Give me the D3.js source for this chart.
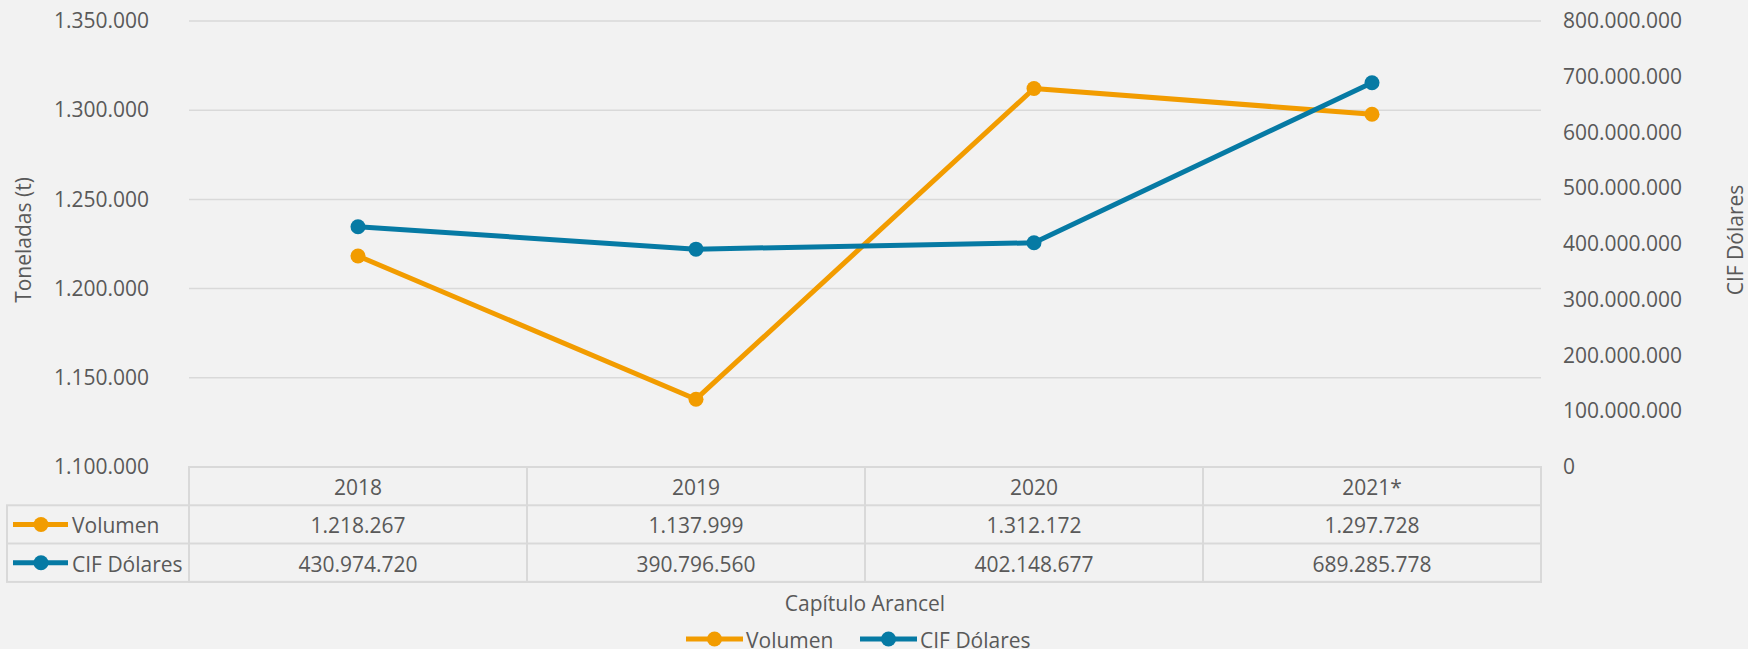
<!DOCTYPE html>
<html>
<head>
<meta charset="utf-8">
<script src="https://cdn.jsdelivr.net/npm/d3@7"></script>
<style>
  html, body { margin: 0; padding: 0; background: #f2f2f2; }
  svg { display: block; font-family: "Open Sans", "Noto Sans", sans-serif; }
</style>
</head>
<body>
<svg width="1748" height="649"></svg>
<script>
var years = ['2018', '2019', '2020', '2021*'];
var volumen = [1218267, 1137999, 1312172, 1297728];
var cifDolares = [430974720, 390796560, 402148677, 689285778];
var leftTicks = [1100000, 1150000, 1200000, 1250000, 1300000, 1350000];
var rightTicks = [0, 100000000, 200000000, 300000000, 400000000, 500000000, 600000000, 700000000, 800000000];

var seriesNames = ['Volumen', 'CIF Dólares'];
var colors = ['#f29c00', '#067aa4'];

var svg = d3.select('svg');
var margin = {top: 21, left: 189, right: 207};
var width = 1748 - margin.left - margin.right;
var plotBottom = 467;
var rowH = 38.3;
var textColor = '#595959';
var gridColor = '#d9d9d9';

var fmt = d3.formatLocale({decimal: ',', thousands: '.', grouping: [3], currency: ['', '']}).format(',d');

var x = d3.scaleBand().domain(years).range([margin.left, margin.left + width]);
var yLeft = d3.scaleLinear().domain([1100000, 1350000]).range([plotBottom, margin.top]);
var yRight = d3.scaleLinear().domain([0, 800000000]).range([plotBottom, margin.top]);

// gridlines
svg.append('g')
    .selectAll('line')
    .data(leftTicks.slice(1))
    .enter()
    .append('line')
    .attr('x1', margin.left)
    .attr('x2', margin.left + width)
    .attr('y1', function (d) { return yLeft(d); })
    .attr('y2', function (d) { return yLeft(d); })
    .attr('stroke', gridColor)
    .attr('stroke-width', 1.5);

// left axis
var axL = svg.append('g')
    .attr('transform', 'translate(' + 149 + ',0)')
    .call(d3.axisLeft(yLeft).tickValues(leftTicks).tickSize(0).tickPadding(0).tickFormat(fmt));
axL.select('.domain').remove();
axL.selectAll('text').attr('fill', textColor).style('font-size', '21px').style('font-family', '"Open Sans", sans-serif');

// right axis
var axR = svg.append('g')
    .attr('transform', 'translate(' + 1563 + ',0)')
    .call(d3.axisRight(yRight).tickValues(rightTicks).tickSize(0).tickPadding(0).tickFormat(fmt));
axR.select('.domain').remove();
axR.selectAll('text').attr('fill', textColor).style('font-size', '21px').style('font-family', '"Open Sans", sans-serif');

// axis titles
svg.append('text')
    .attr('transform', 'translate(23,' + 240 + ') rotate(-90)')
    .attr('text-anchor', 'middle')
    .attr('dominant-baseline', 'central')
    .attr('fill', textColor)
    .style('font-size', '21px')
    .text('Toneladas (t)');

svg.append('text')
    .attr('transform', 'translate(1735,' + 240 + ') rotate(-90)')
    .attr('text-anchor', 'middle')
    .attr('dominant-baseline', 'central')
    .attr('fill', textColor)
    .style('font-size', '21px')
    .text('CIF Dólares');

// lines
var cx = function (d, i) { return x(years[i]) + x.bandwidth() / 2; };
var series = [
    {values: volumen, y: yLeft, color: colors[0]},
    {values: cifDolares, y: yRight, color: colors[1]}
];

series.forEach(function (s) {
    var line = d3.line()
        .x(function (d, i) { return cx(d, i); })
        .y(function (d) { return s.y(d); });
    var g = svg.append('g');
    g.append('path')
        .datum(s.values)
        .attr('d', line)
        .attr('fill', 'none')
        .attr('stroke', s.color)
        .attr('stroke-width', 5)
        .attr('stroke-linejoin', 'round');
    g.selectAll('circle')
        .data(s.values)
        .enter()
        .append('circle')
        .attr('cx', cx)
        .attr('cy', function (d) { return s.y(d); })
        .attr('r', 7.5)
        .attr('fill', s.color);
});

// data table
var table = svg.append('g');
var tableLeft = 7;
var rowsTop = plotBottom;
var lineStyle = function (sel) {
    return sel.attr('stroke', gridColor).attr('stroke-width', 2).attr('fill', 'none');
};

// header row border
table.append('rect')
    .attr('x', margin.left).attr('y', rowsTop)
    .attr('width', width).attr('height', rowH * 3)
    .call(lineStyle);
table.append('rect')
    .attr('x', tableLeft).attr('y', rowsTop + rowH)
    .attr('width', margin.left + width - tableLeft).attr('height', rowH * 2)
    .call(lineStyle);
table.append('line')
    .attr('x1', tableLeft).attr('x2', margin.left + width)
    .attr('y1', rowsTop + rowH * 2).attr('y2', rowsTop + rowH * 2)
    .call(lineStyle);
table.append('line')
    .attr('x1', margin.left).attr('x2', margin.left)
    .attr('y1', rowsTop).attr('y2', rowsTop + rowH * 3)
    .call(lineStyle);
table.selectAll('.vline')
    .data(years.slice(1))
    .enter()
    .append('line')
    .attr('class', 'vline')
    .attr('x1', function (d) { return x(d); })
    .attr('x2', function (d) { return x(d); })
    .attr('y1', rowsTop).attr('y2', rowsTop + rowH * 3)
    .call(lineStyle);

// header text
table.selectAll('.yr')
    .data(years)
    .enter()
    .append('text')
    .attr('class', 'yr')
    .attr('x', function (d) { return x(d) + x.bandwidth() / 2; })
    .attr('y', rowsTop + rowH / 2 + 1)
    .attr('text-anchor', 'middle')
    .attr('dominant-baseline', 'central')
    .attr('fill', textColor)
    .style('font-size', '21px')
    .text(function (d) { return d; });

[volumen, cifDolares].forEach(function (vals, r) {
    var yMid = rowsTop + rowH * (r + 1) + rowH / 2 + 1;
    table.selectAll('.v' + r)
        .data(vals)
        .enter()
        .append('text')
        .attr('class', 'v' + r)
        .attr('x', function (d, i) { return x(years[i]) + x.bandwidth() / 2; })
        .attr('y', yMid)
        .attr('text-anchor', 'middle')
        .attr('dominant-baseline', 'central')
        .attr('fill', textColor)
        .style('font-size', '21px')
        .text(function (d) { return fmt(d); });

    // legend key in table
    table.append('line')
        .attr('x1', 13).attr('x2', 68)
        .attr('y1', yMid - 1).attr('y2', yMid - 1)
        .attr('stroke', colors[r]).attr('stroke-width', 5);
    table.append('circle')
        .attr('cx', 41).attr('cy', yMid - 1).attr('r', 7.5)
        .attr('fill', colors[r]);
    table.append('text')
        .attr('x', 72).attr('y', yMid)
        .attr('dominant-baseline', 'central')
        .attr('fill', textColor)
        .style('font-size', '21px')
        .text(seriesNames[r]);
});

// x axis title
svg.append('text')
    .attr('x', margin.left + width / 2)
    .attr('y', 603)
    .attr('text-anchor', 'middle')
    .attr('dominant-baseline', 'central')
    .attr('fill', textColor)
    .style('font-size', '21px')
    .text('Capítulo Arancel');

// bottom legend
var legendX = [686, 860];
seriesNames.forEach(function (name, i) {
    var lg = svg.append('g').attr('transform', 'translate(' + legendX[i] + ',' + 639 + ')');
    lg.append('line')
        .attr('x1', 0).attr('x2', 57)
        .attr('stroke', colors[i]).attr('stroke-width', 5);
    lg.append('circle')
        .attr('cx', 28.5).attr('r', 7.5)
        .attr('fill', colors[i]);
    lg.append('text')
        .attr('x', 60).attr('y', 1)
        .attr('dominant-baseline', 'central')
        .attr('fill', textColor)
        .style('font-size', '21px')
        .text(name);
});
</script>
</body>
</html>
